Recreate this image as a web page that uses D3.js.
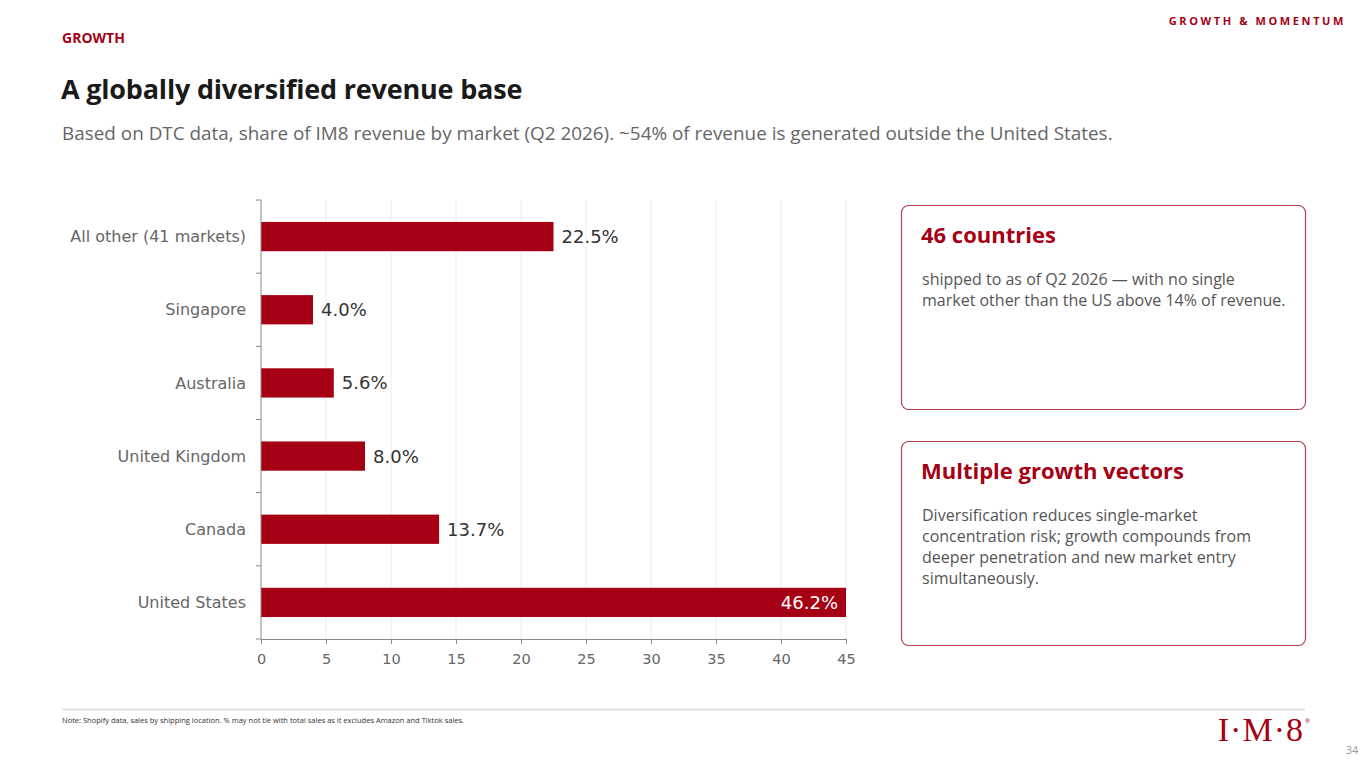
<!DOCTYPE html>
<html lang="en">
<head>
    <meta charset="UTF-8">
    <title>A globally diversified revenue base</title>
    <script src="https://d3js.org/d3.v7.min.js"></script>
    <style>
        body { margin: 0; background: #fff; }
        svg { display: block; }
    </style>
</head>
<body>
    <script>
        // Chart data (top to bottom)
        const markets = ["All other (41 markets)", "Singapore", "Australia", "United Kingdom", "Canada", "United States"];
        const shares = [22.5, 4.0, 5.6, 8.0, 13.7, 46.2];
        const xTicks = [0, 5, 10, 15, 20, 25, 30, 35, 40, 45];

        const cards = [
            { title: "46 countries", lines: ["shipped to as of Q2 2026 \u2014 with no single", "market other than the US above 14% of revenue."] },
            { title: "Multiple growth vectors", lines: ["Diversification reduces single-market", "concentration risk; growth compounds from", "deeper penetration and new market entry", "simultaneously."] }
        ];

        const red = "#a50014";
        const width = 1365, height = 768;
        const uiFont = "'Open Sans', 'Noto Sans', sans-serif";
        const chartFont = "'DejaVu Sans', Verdana, sans-serif";

        const svg = d3.select("body").append("svg")
            .attr("width", width)
            .attr("height", height);

        // Header
        svg.append("text").attr("x", 62).attr("y", 43)
            .attr("font-family", uiFont).attr("font-weight", 700).attr("font-size", 14)
            .attr("fill", red).text("GROWTH");

        svg.append("text").attr("x", 1346).attr("y", 25)
            .attr("text-anchor", "end")
            .attr("font-family", uiFont).attr("font-weight", 700).attr("font-size", 11)
            .attr("letter-spacing", "2.6px")
            .attr("fill", red).text("GROWTH & MOMENTUM");

        svg.append("text").attr("x", 61).attr("y", 99)
            .attr("font-family", uiFont).attr("font-weight", 700).attr("font-size", 27)
            .attr("letter-spacing", "-0.2px")
            .attr("fill", "#1a1a1a").text("A globally diversified revenue base");

        svg.append("text").attr("x", 62).attr("y", 140)
            .attr("font-family", uiFont).attr("font-size", 18.9)
            .attr("fill", "#666")
            .text("Based on DTC data, share of IM8 revenue by market (Q2 2026). ~54% of revenue is generated outside the United States.");

        // Bar chart
        const x = d3.scaleLinear().domain([0, 45]).range([261, 846]);
        const y = d3.scaleBand().domain(markets).range([200, 639]).paddingInner(0.6).paddingOuter(0.3);

        const g = svg.append("g");

        g.append("g").selectAll("line")
            .data(xTicks.slice(1))
            .join("line")
            .attr("x1", d => x(d)).attr("x2", d => x(d))
            .attr("y1", 200).attr("y2", 639)
            .attr("stroke", "#ececec").attr("stroke-width", 1);

        g.append("g").selectAll("rect")
            .data(markets)
            .join("rect")
            .attr("x", x(0))
            .attr("y", d => y(d))
            .attr("width", (d, i) => x(Math.min(shares[i], 45)) - x(0))
            .attr("height", y.bandwidth())
            .attr("fill", red);

        // y axis with ticks at band edges
        const yEdges = d3.range(markets.length + 1).map(i => 200 + i * (639 - 200) / markets.length);
        g.append("line").attr("x1", 261).attr("x2", 261).attr("y1", 200).attr("y2", 639)
            .attr("stroke", "#888").attr("stroke-width", 1);
        g.append("g").selectAll("line")
            .data(yEdges)
            .join("line")
            .attr("x1", 256).attr("x2", 261)
            .attr("y1", d => d).attr("y2", d => d)
            .attr("stroke", "#888");

        g.append("g").selectAll("text")
            .data(markets)
            .join("text")
            .attr("x", 246)
            .attr("y", d => y(d) + y.bandwidth() / 2)
            .attr("dy", "0.35em")
            .attr("text-anchor", "end")
            .attr("font-family", chartFont).attr("font-size", 16)
            .attr("fill", "#666")
            .text(d => d);

        // x axis
        const xAxis = g.append("g")
            .attr("transform", "translate(0,639)")
            .call(d3.axisBottom(x).tickValues(xTicks).tickSize(5).tickSizeOuter(0).tickFormat(d3.format("d")));
        xAxis.select(".domain").attr("stroke", "#888");
        xAxis.selectAll(".tick line").attr("stroke", "#888");
        xAxis.selectAll(".tick text")
            .attr("font-family", chartFont).attr("font-size", 14.5)
            .attr("fill", "#666").attr("y", 8).attr("dy", "1.15em");

        // value labels
        g.append("g").selectAll("text")
            .data(markets)
            .join("text")
            .attr("x", (d, i) => shares[i] > 45 ? x(45) - 8 : x(shares[i]) + 8)
            .attr("y", d => y(d) + y.bandwidth() / 2)
            .attr("dy", "0.36em")
            .attr("text-anchor", (d, i) => shares[i] > 45 ? "end" : "start")
            .attr("font-family", chartFont).attr("font-size", 18)
            .attr("fill", (d, i) => shares[i] > 45 ? "#fff" : "#333")
            .text((d, i) => shares[i].toFixed(1) + "%");

        // Cards
        const cardTops = [205, 441];
        cards.forEach((c, i) => {
            const top = cardTops[i];
            svg.append("rect")
                .attr("x", 901.5).attr("y", top + 0.5)
                .attr("width", 404).attr("height", 204)
                .attr("rx", 7)
                .attr("fill", "#fff")
                .attr("stroke", "#b8404f").attr("stroke-width", 1.2);
            svg.append("text")
                .attr("x", 921).attr("y", top + 38)
                .attr("font-family", uiFont).attr("font-weight", 700).attr("font-size", 22)
                .attr("fill", red).text(c.title);
            svg.append("g").selectAll("text")
                .data(c.lines)
                .join("text")
                .attr("x", 922)
                .attr("y", (d, j) => top + 80 + j * 21)
                .attr("font-family", uiFont).attr("font-size", 16)
                .attr("fill", "#555")
                .text(d => d);
        });

        // Footer
        svg.append("line").attr("x1", 62).attr("x2", 1305).attr("y1", 709.5).attr("y2", 709.5)
            .attr("stroke", "#e3e3e3").attr("stroke-width", 2);
        svg.append("text").attr("x", 62).attr("y", 723)
            .attr("font-family", uiFont).attr("font-size", 7.5)
            .attr("fill", "#333")
            .text("Note: Shopify data, sales by shipping location. % may not tie with total sales as it excludes Amazon and Tiktok sales.");

        svg.append("text").attr("x", 1304).attr("y", 741)
            .attr("text-anchor", "end")
            .attr("font-family", "'Liberation Serif', 'DejaVu Serif', serif").attr("font-size", 34)
            .attr("letter-spacing", "1px")
            .attr("fill", red).text("I\u00b7M\u00b78");
        svg.append("text").attr("x", 1305).attr("y", 723)
            .attr("font-family", uiFont).attr("font-size", 6)
            .attr("fill", red).text("\u00ae");

        svg.append("text").attr("x", 1352).attr("y", 754)
            .attr("text-anchor", "middle")
            .attr("font-family", uiFont).attr("font-size", 11)
            .attr("fill", "#999").text("34");
    </script>
</body>
</html>
